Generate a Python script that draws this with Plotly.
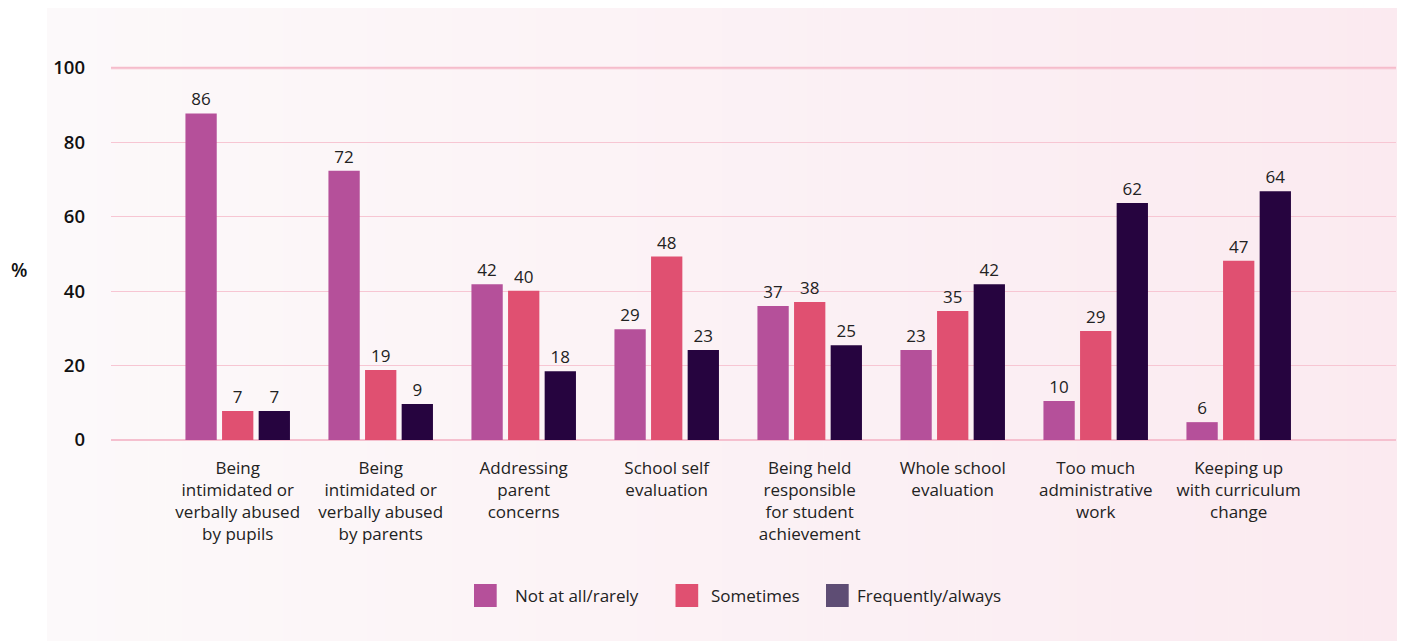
import plotly.graph_objects as go

categories = [
    "Being<br>intimidated or<br>verbally abused<br>by pupils",
    "Being<br>intimidated or<br>verbally abused<br>by parents",
    "Addressing<br>parent<br>concerns",
    "School self<br>evaluation",
    "Being held<br>responsible<br>for student<br>achievement",
    "Whole school<br>evaluation",
    "Too much<br>administrative<br>work",
    "Keeping up<br>with curriculum<br>change",
]
series_names = ["Not at all/rarely", "Sometimes", "Frequently/always"]

# bar heights as drawn in the picture (in %)
not_at_all = [87.8, 72.4, 41.9, 29.8, 36.0, 24.2, 10.5, 4.8]
sometimes = [7.8, 18.8, 40.1, 49.3, 37.1, 34.7, 29.3, 48.2]
frequently = [7.8, 9.7, 18.5, 24.2, 25.5, 41.9, 63.7, 66.9]

# printed value labels
not_at_all_labels = [86, 72, 42, 29, 37, 23, 10, 6]
sometimes_labels = [7, 19, 40, 48, 38, 35, 29, 47]
frequently_labels = [7, 9, 18, 23, 25, 42, 62, 64]

y_ticks = [0, 20, 40, 60, 80, 100]

bar_colors = ["#b5509a", "#e05071", "#26043f"]
legend_colors = ["#b5509a", "#e05071", "#5e4d74"]

W, H = 1402, 641
L, R, T, B = 111, 6, 42, 198
PW, PH = W - L - R, H - T - B


def px(x):
    return (x - L) / PW


def py(y):
    return (H - B - y) / PH


fig = go.Figure()
xs = list(range(len(categories)))
for vals, labs, name, col in zip(
    [not_at_all, sometimes, frequently],
    [not_at_all_labels, sometimes_labels, frequently_labels],
    series_names, bar_colors,
):
    fig.add_trace(go.Bar(
        x=xs, y=vals, name=name, marker=dict(color=col, line=dict(width=0)),
        text=[str(v) for v in labs], textposition="outside",
        textfont=dict(family="Open Sans", size=17, color="#222222"),
        cliponaxis=False, showlegend=False,
    ))

# background gradient panel
shapes = []
n = 80
x0p, x1p = 47, 1397
c0 = (252, 249, 250)
c1 = (251, 234, 240)
for i in range(n):
    t = i / (n - 1)
    c = tuple(round(c0[k] + (c1[k] - c0[k]) * t) for k in range(3))
    xa = x0p + (x1p - x0p) * i / n
    xb = x0p + (x1p - x0p) * (i + 1) / n + 0.6
    shapes.append(dict(
        type="rect", xref="paper", yref="paper", layer="below",
        x0=px(xa), x1=px(min(xb, x1p)), y0=py(641), y1=py(8),
        fillcolor="rgb(%d,%d,%d)" % c, line=dict(width=0),
    ))

# thicker top gridline
shapes.append(dict(type="line", xref="paper", yref="y", x0=0, x1=1, y0=100, y1=100,
                   layer="below", line=dict(color="#f5bccb", width=2.6)))

annotations = []
# legend
leg_sq = [474, 675.5, 826]
leg_tx = [512.7, 709.4, 855]
for name, col, sx, tx in zip(series_names, legend_colors, leg_sq, leg_tx):
    shapes.append(dict(type="rect", xref="paper", yref="paper",
                       x0=px(sx), x1=px(sx + 22.7), y0=py(607), y1=py(584),
                       fillcolor=col, line=dict(width=0)))
    annotations.append(dict(xref="paper", yref="paper", x=px(tx), y=py(595.5),
                            text=name, showarrow=False, xanchor="left", yanchor="middle",
                            font=dict(family="Open Sans", size=17, color="#222222")))

annotations.append(dict(xref="paper", yref="paper", x=px(18.5), y=py(269.5), text="%",
                        showarrow=False, xanchor="center", yanchor="middle",
                        font=dict(family="Open Sans", size=19, color="#111111", weight=600)))

fig.update_layout(
    width=W, height=H,
    margin=dict(l=L, r=R, t=T, b=B, pad=0),
    paper_bgcolor="white", plot_bgcolor="rgba(0,0,0,0)",
    barmode="group", bargap=0.232, bargroupgap=0.145,
    shapes=shapes, annotations=annotations,
    showlegend=False,
    xaxis=dict(
        range=[-0.886, 8.1], tickmode="array", tickvals=xs, ticktext=categories,
        showgrid=False, zeroline=False, showline=False, ticks="",
        ticklabelstandoff=13,
        tickfont=dict(family="Open Sans", size=17, color="#222222"),
    ),
    yaxis=dict(
        range=[-0.806, 106.99], tickmode="array", tickvals=y_ticks,
        ticktext=[str(v) for v in y_ticks],
        showgrid=True, gridcolor="#f7c6d3", gridwidth=1.3,
        zeroline=True, zerolinecolor="#f5c0cf", zerolinewidth=2,
        showline=False, ticks="", ticklabelstandoff=25,
        tickfont=dict(family="Open Sans", size=18.5, color="#111111", weight=600),
    ),
    font=dict(family="Open Sans"),
)

fig.write_html(
    "out.html",
    config={"displayModeBar": False},
    post_script="document.body.style.margin='0';document.body.style.overflow='hidden';",
)
